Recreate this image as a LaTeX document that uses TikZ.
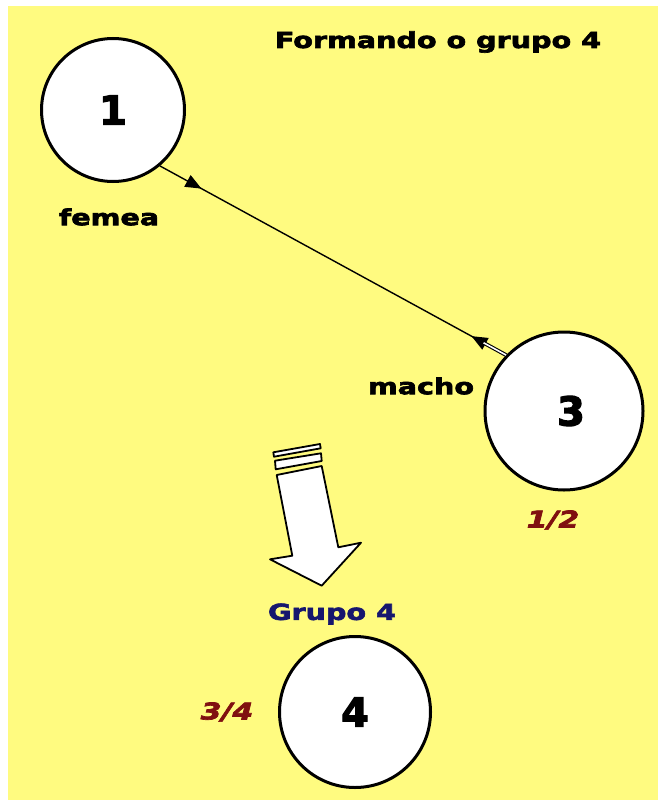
\documentclass[tikz,border=0pt]{standalone}
\usepackage{fontspec}
\setmainfont{DejaVu Sans}
\newfontfamily\widefont[FakeStretch=1.3, FakeBold=3]{DejaVu Sans Bold}
\newfontfamily\fracfont[FakeStretch=1.3, FakeBold=3]{DejaVu Sans Bold Oblique}
\newfontfamily\digitfont[FakeBold=3]{DejaVu Sans Bold}
\usetikzlibrary{arrows.meta,decorations.markings,calc}

\definecolor{paper}{RGB}{255,251,128}
\definecolor{fracred}{RGB}{128,16,16}
\definecolor{grpblue}{RGB}{22,22,110}

\tikzset{
  ball/.style={circle, draw, line width=3pt, fill=white, inner sep=0pt,
    font=\digitfont\fontsize{40}{40}\selectfont},
  tag/.style={font=\widefont\fontsize{22}{22}\selectfont},
  frac/.style={text=fracred, font=\fracfont\fontsize{23}{23}\selectfont},
  bigarrow/.style={draw, line width=1.8pt, fill=white, line join=round},
}

\begin{document}
\begin{tikzpicture}[x=1pt,y=-1pt]

    %% Sheet
    \useasboundingbox (0,0) rectangle (658,800);
    \fill[paper] (8,6) rectangle (658,800);

    % Title
    \node[tag] (title) at (438,42) {Formando o grupo 4};

    % Female and male
    \node[ball, minimum size=143pt] (c1) at (113,110) {1};
    \node[tag] (femea) at (109,217) {femea};
    \node[ball, minimum size=158pt] (c3) at (564,411) {\hspace{14pt}3};
    \node[tag] (macho) at (421,386) {macho};
    \node[frac] (half) at (553,520) {1/2};

    % Crossing line
    \draw[line width=1.4pt, postaction={decorate}, decoration={markings,
        mark=at position 0.12 with {\arrow{Triangle[length=16pt,width=13pt]}},
        mark=at position 0.9 with {\arrowreversed{Triangle[length=16pt,width=13pt]}}}]
        (c1.-50) -- (c3.136);
    \draw[double, line width=1.1pt, double distance=1.6pt]
        ($(c1.-50)!0.935!(c3.136)$) -- (c3.136);

    % Big arrow down
    \draw[bigarrow] (273.3,452.3) -- (320,444) -- (320.7,448.3) -- (274,456.7) -- cycle;
    \draw[bigarrow] (275,460.7) -- (321,453.3) -- (321.7,461) -- (275.7,469.3) -- cycle;
    \draw[bigarrow] (276.7,475) -- (321.7,466) -- (338.3,547.3) -- (361,542.7)
        -- (321.7,585.7) -- (270,559.3) -- (292.3,555.7) -- cycle;

    % Group 4
    \node[tag, text=grpblue] (grupo) at (332,614) {Grupo 4};
    \node[ball, minimum size=151pt] (c4) at (355,712) {4};
    \node[frac] (tq) at (227,712) {3/4};

\end{tikzpicture}
\end{document}
